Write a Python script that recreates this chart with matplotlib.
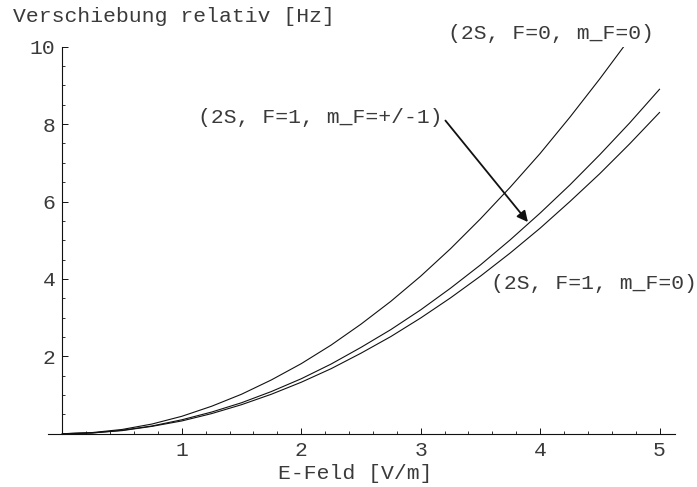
import matplotlib
matplotlib.use('Agg')
import matplotlib.pyplot as plt
from matplotlib.ticker import MultipleLocator, FixedLocator

plt.rcParams['font.family'] = ['Liberation Mono', 'DejaVu Sans Mono']

# Stark-Verschiebung der 2S-Niveaus gegen das elektrische Feld
e_feld = [0.0, 0.25, 0.5, 0.75, 1.0, 1.25, 1.5, 1.75, 2.0, 2.25, 2.5,
          2.75, 3.0, 3.25, 3.5, 3.75, 4.0, 4.25, 4.5, 4.75, 5.0]
e_feld_f0 = [0.0, 0.25, 0.5, 0.75, 1.0, 1.25, 1.5, 1.75, 2.0, 2.25, 2.5,
             2.75, 3.0, 3.25, 3.5, 3.75, 4.0, 4.25, 4.5, 4.7]

shift_f0_m0 = [0.0, 0.03, 0.11, 0.25, 0.45, 0.71, 1.02, 1.39, 1.81, 2.29, 2.83,
               3.42, 4.07, 4.78, 5.55, 6.37, 7.24, 8.18, 9.17, 10.0]
shift_f1_m1 = [0.0, 0.02, 0.09, 0.20, 0.36, 0.56, 0.80, 1.09, 1.42, 1.80, 2.23,
               2.69, 3.20, 3.76, 4.36, 5.01, 5.70, 6.43, 7.21, 8.03, 8.90]
shift_f1_m0 = [0.0, 0.02, 0.08, 0.19, 0.33, 0.52, 0.75, 1.02, 1.33, 1.68, 2.08,
               2.51, 2.99, 3.51, 4.07, 4.67, 5.31, 6.00, 6.72, 7.49, 8.30]

label_f0_m0 = '(2S, F=0, m_F=0)'
label_f1_m1 = '(2S, F=1, m_F=+/-1)'
label_f1_m0 = '(2S, F=1, m_F=0)'

txt_color = '#3a3a3a'
fs = 15.4

fig = plt.figure(figsize=(6.97, 4.87), dpi=100)
ax = fig.add_axes([0.0689, 0.1094, 0.8996, 0.7947])

ax.plot(e_feld_f0, shift_f0_m0, color='#111111', lw=0.8)
ax.plot(e_feld, shift_f1_m1, color='#111111', lw=0.8)
ax.plot(e_feld, shift_f1_m0, color='#111111', lw=0.8)

ax.set_xlim(-0.12, 5.13)
ax.set_ylim(0, 10)

for s in ['top', 'right']:
    ax.spines[s].set_visible(False)
ax.spines['left'].set_position(('data', 0))
ax.spines['bottom'].set_position(('data', 0))
for s in ['left', 'bottom']:
    ax.spines[s].set_linewidth(0.8)
    ax.spines[s].set_color('#111111')

ax.xaxis.set_major_locator(FixedLocator([1, 2, 3, 4, 5]))
ax.xaxis.set_minor_locator(MultipleLocator(0.2))
ax.yaxis.set_major_locator(FixedLocator([2, 4, 6, 8, 10]))
ax.yaxis.set_minor_locator(MultipleLocator(0.5))
ax.tick_params(which='major', direction='in', length=4, width=0.7, color='#111111',
               labelsize=fs, labelcolor=txt_color)
ax.tick_params(which='minor', direction='in', length=2.2, width=0.6, color='#111111')
ax.tick_params(axis='x', pad=5)
ax.tick_params(axis='y', pad=5)

ax.text(-0.415, 10.77, 'Verschiebung relativ [Hz]', fontsize=fs, color=txt_color,
        ha='left', va='center', clip_on=False)
ax.text(2.45, -1.02, 'E-Feld [V/m]', fontsize=fs, color=txt_color,
        ha='center', va='center', clip_on=False)

ax.text(4.09, 10.35, label_f0_m0, fontsize=fs, color=txt_color,
        ha='center', va='center', clip_on=False)
ax.text(4.455, 3.89, label_f1_m0, fontsize=fs, color=txt_color,
        ha='center', va='center', clip_on=False)
ax.annotate(label_f1_m1, xy=(3.898, 5.47), xytext=(2.16, 8.18),
            fontsize=fs, color=txt_color, ha='center', va='center',
            arrowprops=dict(arrowstyle='-|>', color='#111111', lw=1.3,
                            mutation_scale=16, shrinkA=0, shrinkB=0,
                            relpos=(1.0, 0.5)))

fig.savefig('out.png', dpi=100)
